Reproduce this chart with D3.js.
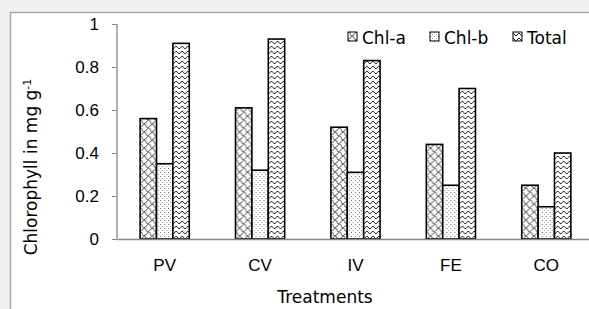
<!DOCTYPE html>
<html lang="en">
  <head>
    <meta charset="utf-8">
    <title>Chlorophyll</title>
    <style>
      body { margin: 0; background: #f0f0f0; }
      svg { display: block; font-family: "DejaVu Sans", Verdana, sans-serif; }
    </style>
  </head>
  <body>
    <svg id="chart" width="589" height="309"></svg>
  </body>
  <script src="https://cdn.jsdelivr.net/npm/d3@7"></script>
  <script type="text/javascript">
    // values
    var treatments = ['PV', 'CV', 'IV', 'FE', 'CO'];
    var series = ['Chl-a', 'Chl-b', 'Total'];
    var chlA = [0.56, 0.61, 0.52, 0.44, 0.25];
    var chlB = [0.35, 0.32, 0.31, 0.25, 0.15];
    var total = [0.91, 0.93, 0.83, 0.70, 0.40];
    var yTicks = [0, 0.2, 0.4, 0.6, 0.8, 1];
    var yTickLabels = ['0', '0.2', '0.4', '0.6', '0.8', '1'];

    var values = [chlA, chlB, total];
    var rows = treatments.map(function(t, i) {
      return { name: t, vals: series.map(function(s, j) { return { key: s, v: values[j][i] }; }) };
    });

    var svg = d3.select('#chart');
    var W = 589, H = 309;
    var plotL = 117, plotT = 24, plotB = 239, plotR = 594;

    // chart frame
    svg.append('rect').attr('x', 10.5).attr('y', 12.5).attr('width', W + 20).attr('height', H + 20)
      .attr('fill', '#fff').attr('stroke', '#a6a6a6').attr('stroke-width', 1.5);

    // fill patterns
    var defs = svg.append('defs');
    var pA = defs.append('pattern').attr('id', 'pat-a').attr('patternUnits', 'userSpaceOnUse')
      .attr('width', 8).attr('height', 8);
    pA.append('rect').attr('width', 8).attr('height', 8).attr('fill', '#fff');
    pA.append('path').attr('d', 'M0,0 C4,0 1,4 4,4 S5,8 8,8 M4,4 C5,2 7,3 8,0 M0,8 C1,6 3,6 4,4')
      .attr('fill', 'none').attr('stroke', '#222').attr('stroke-width', 0.75);

    var pB = defs.append('pattern').attr('id', 'pat-b').attr('patternUnits', 'userSpaceOnUse')
      .attr('width', 4).attr('height', 4);
    pB.append('rect').attr('width', 4).attr('height', 4).attr('fill', '#fff');
    pB.append('rect').attr('x', 0).attr('y', 0).attr('width', 1).attr('height', 1).attr('fill', '#666');
    pB.append('rect').attr('x', 2).attr('y', 2).attr('width', 1).attr('height', 1).attr('fill', '#999');

    var pT = defs.append('pattern').attr('id', 'pat-t').attr('patternUnits', 'userSpaceOnUse')
      .attr('width', 6).attr('height', 5);
    pT.append('rect').attr('width', 6).attr('height', 5).attr('fill', '#fff');
    pT.append('path').attr('d', 'M0,1 L3,4 L6,1').attr('fill', 'none').attr('stroke', '#111').attr('stroke-width', 0.9);

    var fills = { 'Chl-a': 'url(#pat-a)', 'Chl-b': 'url(#pat-b)', 'Total': 'url(#pat-t)' };

    var x0 = d3.scaleBand().domain(treatments).range([plotL, plotR]).paddingInner(0.485).paddingOuter(0.2425);
    var x1 = d3.scaleBand().domain(series).range([0, x0.bandwidth()]);
    var y = d3.scaleLinear().domain([0, 1]).range([plotB, plotT]);

    // y axis
    var yAxis = svg.append('g').attr('transform', 'translate(' + plotL + ',0)')
      .call(d3.axisLeft(y).tickValues(yTicks).tickSize(5).tickPadding(13)
        .tickFormat(function(d, i) { return yTickLabels[i]; }));
    yAxis.selectAll('line, path').attr('stroke', '#868686');
    yAxis.select('.domain').attr('d', 'M0,' + plotT + 'V' + plotB).attr('stroke-width', 1.3);
    yAxis.selectAll('text').attr('font-size', 17).attr('fill', '#000').attr('font-family', null);

    // bars
    var grp = svg.selectAll('g.grp').data(rows).enter().append('g').attr('class', 'grp')
      .attr('transform', function(d) { return 'translate(' + x0(d.name) + ',0)'; });
    grp.selectAll('rect').data(function(d) { return d.vals; }).enter().append('rect')
      .attr('x', function(d) { return x1(d.key); })
      .attr('y', function(d) { return y(d.v); })
      .attr('width', x1.bandwidth())
      .attr('height', function(d) { return y(0) - y(d.v); })
      .attr('fill', function(d) { return fills[d.key]; })
      .attr('stroke', '#000').attr('stroke-width', 1.6);

    // x axis
    var xAxis = svg.append('g').attr('transform', 'translate(0,' + plotB + ')')
      .call(d3.axisBottom(x0).tickSize(0).tickPadding(20).tickSizeOuter(0));
    xAxis.select('.domain').attr('stroke', '#868686').attr('stroke-width', 1.3);
    xAxis.selectAll('text').attr('font-size', 17).attr('fill', '#000').attr('font-family', null);

    // axis titles
    svg.append('text').attr('transform', 'translate(37,167) rotate(-90)').attr('text-anchor', 'middle')
      .attr('font-size', 17).text('Chlorophyll in mg g')
      .append('tspan').attr('dy', -6).attr('font-size', 11).text('-1');
    svg.append('text').attr('x', 325).attr('y', 303).attr('text-anchor', 'middle')
      .attr('font-size', 17).text('Treatments');

    // legend
    var lx = [348, 430, 513];
    var leg = svg.selectAll('g.leg').data(series).enter().append('g').attr('class', 'leg')
      .attr('transform', function(d, i) { return 'translate(' + lx[i] + ',32)'; });
    leg.append('rect').attr('width', 9).attr('height', 9)
      .attr('fill', function(d) { return fills[d]; }).attr('stroke', '#000').attr('stroke-width', 1);
    leg.append('text').attr('x', 14).attr('y', 12).attr('font-size', 17).text(function(d) { return d; });
  </script>
</html>
